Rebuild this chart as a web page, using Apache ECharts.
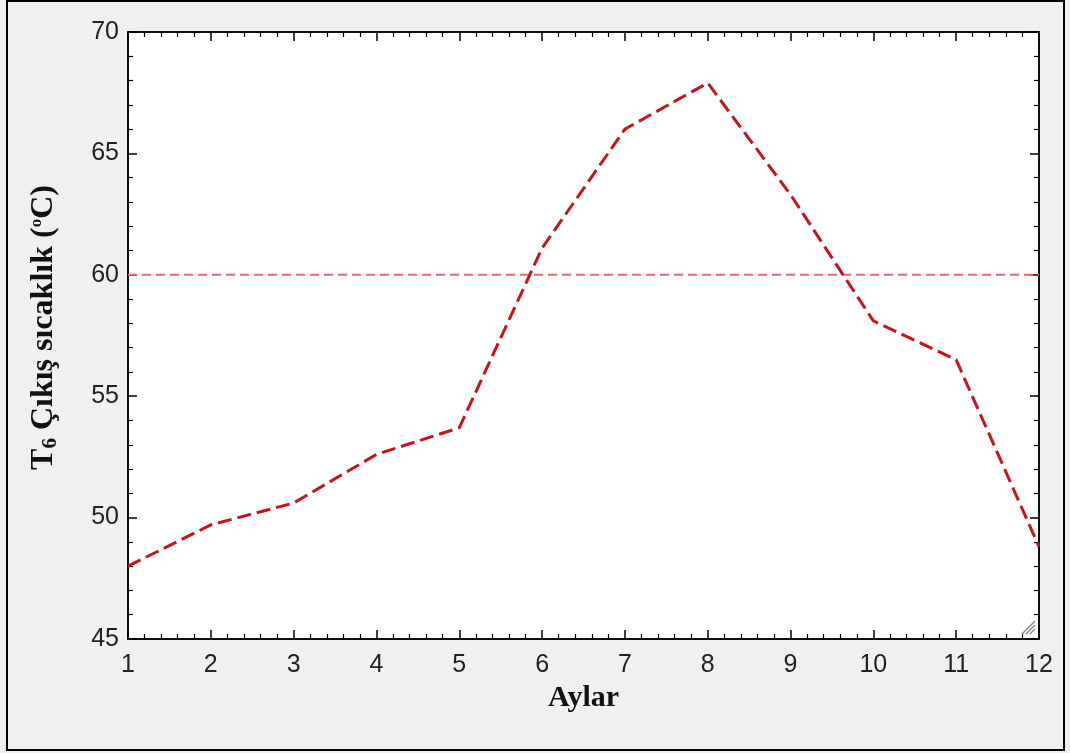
<!DOCTYPE html>
<html>
<head>
<meta charset="utf-8">
<script src="https://cdn.jsdelivr.net/npm/echarts@6/dist/echarts.min.js"></script>
<style>html,body{margin:0;padding:0;background:#f0f0f0;}#c{width:1070px;height:753px;}</style>
</head>
<body>
<div id="c"></div>
<script>
var months = [1,2,3,4,5,6,7,8,9,10,11,12];
var temps = [48.0,49.7,50.6,52.6,53.7,61.1,66.0,67.9,63.3,58.1,56.5,48.8];
var refLevel = 60;
var xTicks = [1,2,3,4,5,6,7,8,9,10,11,12];
var yTicks = [45,50,55,60,65,70];

var chart = echarts.init(document.getElementById('c'), null, {renderer:'canvas'});
var lineData = months.map(function(m,i){return [m,temps[i]];});
var refData = [[xTicks[0],refLevel],[xTicks[xTicks.length-1],refLevel]];

var axCommon = {
  axisLine:{show:true,onZero:false,lineStyle:{color:'#000',width:1.5}},
  axisTick:{show:true,inside:true,length:9,lineStyle:{color:'#000',width:1.5}},
  minorTick:{show:true,splitNumber:5,length:5,lineStyle:{color:'#000',width:1.2}},
  splitLine:{show:false}
};
function ax(extra){return Object.assign({}, JSON.parse(JSON.stringify(axCommon)), extra);}

chart.setOption({
  backgroundColor:'#f0f0f0',
  animation:false,
  grid:{left:128,top:32,right:31,bottom:114,show:true,backgroundColor:'#fff',borderColor:'#000',borderWidth:1.5},
  graphic:[
    {type:'rect',shape:{x:7,y:1,width:1057,height:749},style:{fill:'none',stroke:'#000',lineWidth:2},z:-1},
    {type:'line',shape:{x1:1022,y1:634,x2:1035,y2:621},style:{stroke:'#888',lineWidth:1.5},z:100},
    {type:'line',shape:{x1:1026,y1:634,x2:1035,y2:625},style:{stroke:'#888',lineWidth:1.5},z:100},
    {type:'line',shape:{x1:1030,y1:634,x2:1035,y2:629},style:{stroke:'#888',lineWidth:1.5},z:100}
  ],
  xAxis:[
    ax({type:'value',min:1,max:12,interval:1,position:'bottom',
      name:'Aylar',nameLocation:'middle',nameGap:43,
      nameTextStyle:{fontFamily:'Liberation Serif',fontWeight:'bold',fontSize:30,color:'#111'},
      axisLabel:{show:true,fontFamily:'Liberation Sans',fontSize:25,color:'#222',margin:14}}),
    ax({type:'value',min:1,max:12,interval:1,position:'top',axisLabel:{show:false}})
  ],
  yAxis:[
    ax({type:'value',min:45,max:70,interval:5,position:'left',
      name:'{a|T}{s|6}{a| Çıkış sıcaklık (}{o|o}{a|C)}',nameLocation:'middle',nameGap:64,nameRotate:90,
      nameTextStyle:{padding:[0,0,0,16],rich:{
        a:{fontFamily:'Liberation Serif',fontWeight:'bold',fontSize:32,color:'#111',lineHeight:40,verticalAlign:'middle'},
        s:{fontFamily:'Liberation Serif',fontWeight:'bold',fontSize:21,color:'#111',lineHeight:40,verticalAlign:'bottom',padding:[0,0,3,0]},
        o:{fontFamily:'Liberation Serif',fontWeight:'bold',fontSize:17,color:'#111',lineHeight:40,verticalAlign:'top',padding:[4,0,0,0]}
      }},
      axisLabel:{show:true,fontFamily:'Liberation Sans',fontSize:25,color:'#222',margin:9}}),
    ax({type:'value',min:45,max:70,interval:5,position:'right',axisLabel:{show:false}})
  ],
  series:[
    {type:'line',data:refData,showSymbol:false,symbol:'none',
      lineStyle:{color:'#e86a6a',width:2,type:[9,5]},z:2},
    {type:'line',data:lineData,showSymbol:false,symbol:'none',
      lineStyle:{color:'#c4141c',width:3,type:[14,6]},z:3}
  ]
});
</script>
</body>
</html>
